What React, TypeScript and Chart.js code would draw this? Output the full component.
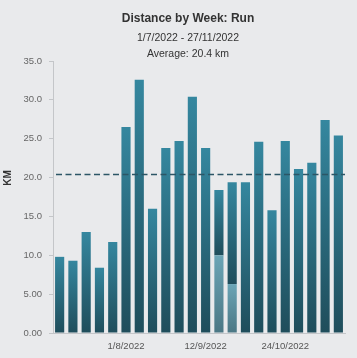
import React, { useEffect, useRef } from "react";
import { Chart, registerables } from "chart.js";

Chart.register(...registerables);

const weeks = [
  "27/6/2022", "4/7/2022", "11/7/2022", "18/7/2022", "25/7/2022", "1/8/2022",
  "8/8/2022", "15/8/2022", "22/8/2022", "29/8/2022", "5/9/2022", "12/9/2022",
  "19/9/2022", "26/9/2022", "3/10/2022", "10/10/2022", "17/10/2022", "24/10/2022",
  "31/10/2022", "7/11/2022", "14/11/2022", "21/11/2022",
];
const shownLabels = ["1/8/2022", "12/9/2022", "24/10/2022"];
const lightKm = [0, 0, 0, 0, 0, 0, 0, 0, 0, 0, 0, 0, 10.0, 6.3, 0, 0, 0, 0, 0, 0, 0, 0];
const darkKm = [9.8, 9.3, 13.0, 8.4, 11.7, 26.5, 32.6, 16.0, 23.8, 24.7, 30.4, 23.8, 8.4, 13.1, 19.4, 24.6, 15.8, 24.7, 21.1, 21.9, 27.4, 25.4];
const averageKm = 20.4;
const yTicks = [0, 5, 10, 15, 20, 25, 30, 35];
const yTickLabels = ["0.00", "5.00", "10.0", "15.0", "20.0", "25.0", "30.0", "35.0"];
const titleText = "Distance by Week: Run";
const subtitleLines = ["1/7/2022 - 27/11/2022", "Average: 20.4 km"];
const yTitle = "KM";

const FONT = "Liberation Sans, Arial, sans-serif";

function makeGradient(ctx: any, top: string, bottom: string) {
  const chart = ctx.chart;
  const y = chart.scales?.y;
  if (!y || !chart.chartArea) return bottom;
  const ds = ctx.dataset;
  const i = ctx.dataIndex;
  let base = 0;
  for (let d = 0; d < ctx.datasetIndex; d++) base += (chart.data.datasets[d].data[i] as number) || 0;
  const v = (ds.data[i] as number) || 0;
  const yTop = y.getPixelForValue(base + v);
  const yBot = y.getPixelForValue(base);
  if (!isFinite(yTop) || !isFinite(yBot) || yTop === yBot) return bottom;
  const g = chart.ctx.createLinearGradient(0, yTop, 0, yBot);
  g.addColorStop(0, top);
  g.addColorStop(1, bottom);
  return g;
}

const avgLinePlugin = {
  id: "avgLine",
  afterDatasetsDraw(chart: any) {
    const { ctx, chartArea, scales } = chart;
    const y = scales.y.getPixelForValue(averageKm);
    ctx.save();
    ctx.strokeStyle = "#2c5666";
    ctx.lineWidth = 1.5;
    ctx.setLineDash([6, 3.5]);
    ctx.beginPath();
    ctx.moveTo(chartArea.left + 3, y);
    ctx.lineTo(chartArea.right, y);
    ctx.stroke();
    ctx.restore();
  },
};

const textPlugin = {
  id: "texts",
  afterDraw(chart: any) {
    const ctx = chart.ctx;
    const cx = chart.width / 2 + 9.5;
    ctx.save();
    ctx.fillStyle = "#333";
    ctx.textAlign = "center";
    ctx.textBaseline = "middle";
    ctx.font = `bold 12px ${FONT}`;
    ctx.fillText(titleText, cx, 19);
    ctx.font = `10.5px ${FONT}`;
    ctx.fillText(subtitleLines[0], cx, 38);
    ctx.fillText(subtitleLines[1], cx, 54);
    ctx.translate(8, 178);
    ctx.rotate(-Math.PI / 2);
    ctx.font = `bold 10px ${FONT}`;
    ctx.fillText(yTitle, 0, 0);
    ctx.restore();
  },
};

export default function App() {
  const ref = useRef<HTMLCanvasElement>(null);
  useEffect(() => {
    document.body.style.background = "#e9eaec";
    const chart = new Chart(ref.current!, {
      type: "bar",
      data: {
        labels: weeks,
        datasets: [
          {
            label: "Light",
            data: lightKm,
            backgroundColor: (c: any) => makeGradient(c, "#6ba5b6", "#4b7784"),
            categoryPercentage: 0.69,
            barPercentage: 1,
          },
          {
            label: "Run",
            data: darkKm,
            backgroundColor: (c: any) => makeGradient(c, "#35879f", "#1f4d5b"),
            categoryPercentage: 0.69,
            barPercentage: 1,
          },
        ],
      },
      options: {
        animation: false,
        responsive: true,
        maintainAspectRatio: false,
        layout: { padding: { left: 0, right: 12, top: 61, bottom: 0 } },
        plugins: {
          legend: { display: false },
          tooltip: { enabled: false },
          title: { display: false },
          subtitle: { display: false },
        },
        scales: {
          x: {
            stacked: true,
            afterFit: (axis: any) => {
              axis.height = 25;
            },
            grid: { display: false, drawTicks: false },
            border: { display: true, color: "#c4c6c9" },
            ticks: {
              autoSkip: false,
              maxRotation: 0,
              color: "#555",
              padding: 8,
              font: { family: FONT, size: 9.5 },
              callback: (_v: any, i: number) => (shownLabels.includes(weeks[i]) ? weeks[i] : ""),
            },
          },
          y: {
            stacked: true,
            min: 0,
            max: 35,
            afterFit: (axis: any) => {
              axis.width = 53;
            },
            afterBuildTicks: (axis: any) => {
              axis.ticks = yTicks.map((v) => ({ value: v }));
            },
            grid: { display: true, drawOnChartArea: false, tickLength: 4, color: "#c4c6c9" },
            border: { display: true, color: "#c4c6c9" },
            ticks: {
              color: "#666",
              padding: 7,
              font: { family: FONT, size: 9.5 },
              callback: (v: any) => yTickLabels[yTicks.indexOf(Number(v))] ?? "",
            },
          },
        },
      },
      plugins: [avgLinePlugin, textPlugin],
    } as any);
    return () => chart.destroy();
  }, []);
  return (
    <div style={{ position: "absolute", left: 0, top: 0, width: 357, height: 358 }}>
      <canvas ref={ref} />
    </div>
  );
}
